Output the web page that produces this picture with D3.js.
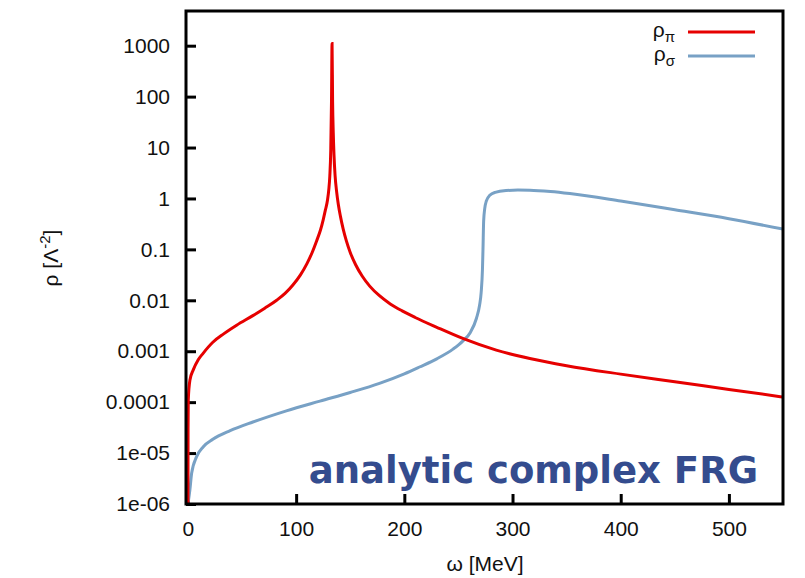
<!DOCTYPE html>
<html>
<head>
<meta charset="utf-8">
<script src="https://cdn.jsdelivr.net/npm/d3@7"></script>
<style>
  body { margin: 0; background: #fff; }
  text { font-family: "Liberation Sans", Arial, sans-serif; }
</style>
</head>
<body>
<div class="container"></div>
<script>
const WIDTH = 805;
const HEIGHT = 578;

// rho_pi
const piOmega = [0, 0.1, 0.3, 1.8, 4.9, 9.5, 14, 23, 33, 45, 60, 71, 82, 90, 97, 104, 110, 115, 119, 122.5, 125, 127, 129, 130.2, 131.1, 132, 132.7, 133.2,
  133.7, 134.3, 135, 136, 137.5, 139, 141, 143.5, 146.5, 150, 155, 161, 168, 177, 187, 198, 210, 230, 254, 285, 316, 350, 400, 450, 500, 550];
const piRho = [1e-6, 3e-5, 1.1e-4, 2.7e-4, 4.3e-4, 6.8e-4, 9.1e-4, 1.5e-3, 2.19e-3, 3.24e-3, 5.0e-3, 7.0e-3, 1.0e-2, 1.38e-2, 2.0e-2, 3.16e-2, 5.25e-2, 8.9e-2, 0.148, 0.24, 0.38, 0.59, 0.93, 1.51, 2.7, 8.9, 85, 1100,
  79, 20, 7.1, 2.8, 1.32, 0.76, 0.44, 0.25, 0.145, 0.087, 0.05, 0.03, 0.019, 0.0123, 0.0085, 0.0062, 0.0046, 0.00295, 0.00178, 0.00105, 0.00072, 0.00052, 0.000355, 0.000251, 0.000178, 0.000126];

// rho_sigma
const sigmaOmega = [0, 1.8, 3.4, 8, 14, 23, 39, 60, 91, 122, 150, 177, 200, 214, 230, 245, 254, 261, 266.6, 269.5, 271, 272.2, 272.7, 273.3, 274.3, 275.8,
  279, 284, 294, 305, 316, 335, 353, 400, 450, 500, 550];
const sigmaRho = [1e-6, 1.9e-6, 4e-6, 8.5e-6, 1.32e-5, 1.86e-5, 2.75e-5, 4.07e-5, 6.76e-5, 1.05e-4, 1.55e-4, 2.34e-4, 3.6e-4, 4.9e-4, 7.1e-4, 1.1e-3, 1.58e-3, 2.34e-3, 4.4e-3, 7.9e-3, 1.41e-2, 3.98e-2, 0.1, 0.355, 0.63, 0.89,
  1.15, 1.32, 1.43, 1.46, 1.45, 1.365, 1.245, 0.89, 0.6, 0.4, 0.25];

const xTickValues = [0, 100, 200, 300, 400, 500];
const yTickValues = [1000, 100, 10, 1, 0.1, 0.01, 0.001, 0.0001, 1e-5, 1e-6];
const yTickLabels = ['1000', '100', '10', '1', '0.1', '0.01', '0.001', '0.0001', '1e-05', '1e-06'];

const RED = '#e60000';
const BLUE = '#78a1c5';

var display = function () {
  var left = 186, right = 783, top = 11, bottom = 504;

  var svg = d3.select('.container').append('svg')
    .attr('width', WIDTH)
    .attr('height', HEIGHT);

  var x = d3.scaleLinear().domain([-1.8, 550]).range([left, right]);
  var y = d3.scaleLog().domain([1e-6, 4800]).range([bottom, top]);

  svg.append('clipPath').attr('id', 'plot')
    .append('rect')
    .attr('x', left).attr('y', top)
    .attr('width', right - left).attr('height', bottom - top);

  // axes, ticks pointing inward
  var yAxis = d3.axisLeft(y)
    .tickValues(yTickValues)
    .tickFormat((d, i) => yTickLabels[i])
    .tickSizeInner(-10)
    .tickSizeOuter(0)
    .tickPadding(16);
  var gy = svg.append('g').attr('transform', 'translate(' + left + ',0)').call(yAxis);

  var xAxis = d3.axisBottom(x)
    .tickValues(xTickValues)
    .tickSizeInner(-10)
    .tickSizeOuter(0)
    .tickPadding(17);
  var gx = svg.append('g').attr('transform', 'translate(0,' + bottom + ')').call(xAxis);

  [gx, gy].forEach(g => {
    g.select('.domain').remove();
    g.selectAll('.tick line').attr('stroke', '#000').attr('stroke-width', 3);
    g.selectAll('.tick text')
      .attr('fill', '#111')
      .style('font-size', '21px')
      .style('font-family', '"Liberation Sans", Arial, sans-serif');
  });

  // curves
  var line = function (xs, ys) {
    return d3.line()
      .x((d, i) => x(xs[i]))
      .y((d, i) => y(ys[i]))
      .curve(d3.curveMonotoneX)(xs);
  };

  var curves = svg.append('g').attr('clip-path', 'url(#plot)');
  curves.append('path')
    .attr('d', line(sigmaOmega, sigmaRho))
    .style('fill', 'none')
    .attr('stroke', BLUE)
    .attr('stroke-width', 3);
  curves.append('path')
    .attr('d', line(piOmega, piRho))
    .style('fill', 'none')
    .attr('stroke', RED)
    .attr('stroke-width', 3);

  // frame
  svg.append('rect')
    .attr('x', left).attr('y', top)
    .attr('width', right - left).attr('height', bottom - top)
    .style('fill', 'none')
    .attr('stroke', '#000')
    .attr('stroke-width', 3);

  // legend
  var legend = [
    { sub: 'π', color: RED, y: 32 },
    { sub: 'σ', color: BLUE, y: 56 }
  ];
  legend.forEach(l => {
    var t = svg.append('text')
      .attr('x', 675).attr('y', l.y + 5)
      .attr('text-anchor', 'end')
      .style('font-size', '21px')
      .attr('fill', '#111');
    t.append('tspan').text('ρ');
    t.append('tspan').attr('dy', 5).style('font-size', '15px').text(l.sub);
    svg.append('line')
      .attr('x1', 688).attr('x2', 755)
      .attr('y1', l.y).attr('y2', l.y)
      .attr('stroke', l.color)
      .attr('stroke-width', 3);
  });

  // axis titles
  svg.append('text')
    .attr('x', 485).attr('y', 571)
    .attr('text-anchor', 'middle')
    .style('font-size', '21px')
    .attr('fill', '#111')
    .text('ω [MeV]');

  var yl = svg.append('text')
    .attr('transform', 'translate(58,258) rotate(-90)')
    .attr('text-anchor', 'middle')
    .style('font-size', '21px')
    .attr('fill', '#111');
  yl.append('tspan').text('ρ [Λ');
  yl.append('tspan').attr('dy', -8).style('font-size', '15px').text('-2');
  yl.append('tspan').attr('dy', 8).text(']');

  svg.append('text')
    .attr('x', 758).attr('y', 483)
    .attr('text-anchor', 'end')
    .style('font-family', '"DejaVu Sans", Verdana, sans-serif')
    .style('font-weight', 'bold')
    .style('font-size', '37px')
    .attr('fill', '#344c8e')
    .text('analytic complex FRG');
}

window.onload = display;
</script>
</body>
</html>
